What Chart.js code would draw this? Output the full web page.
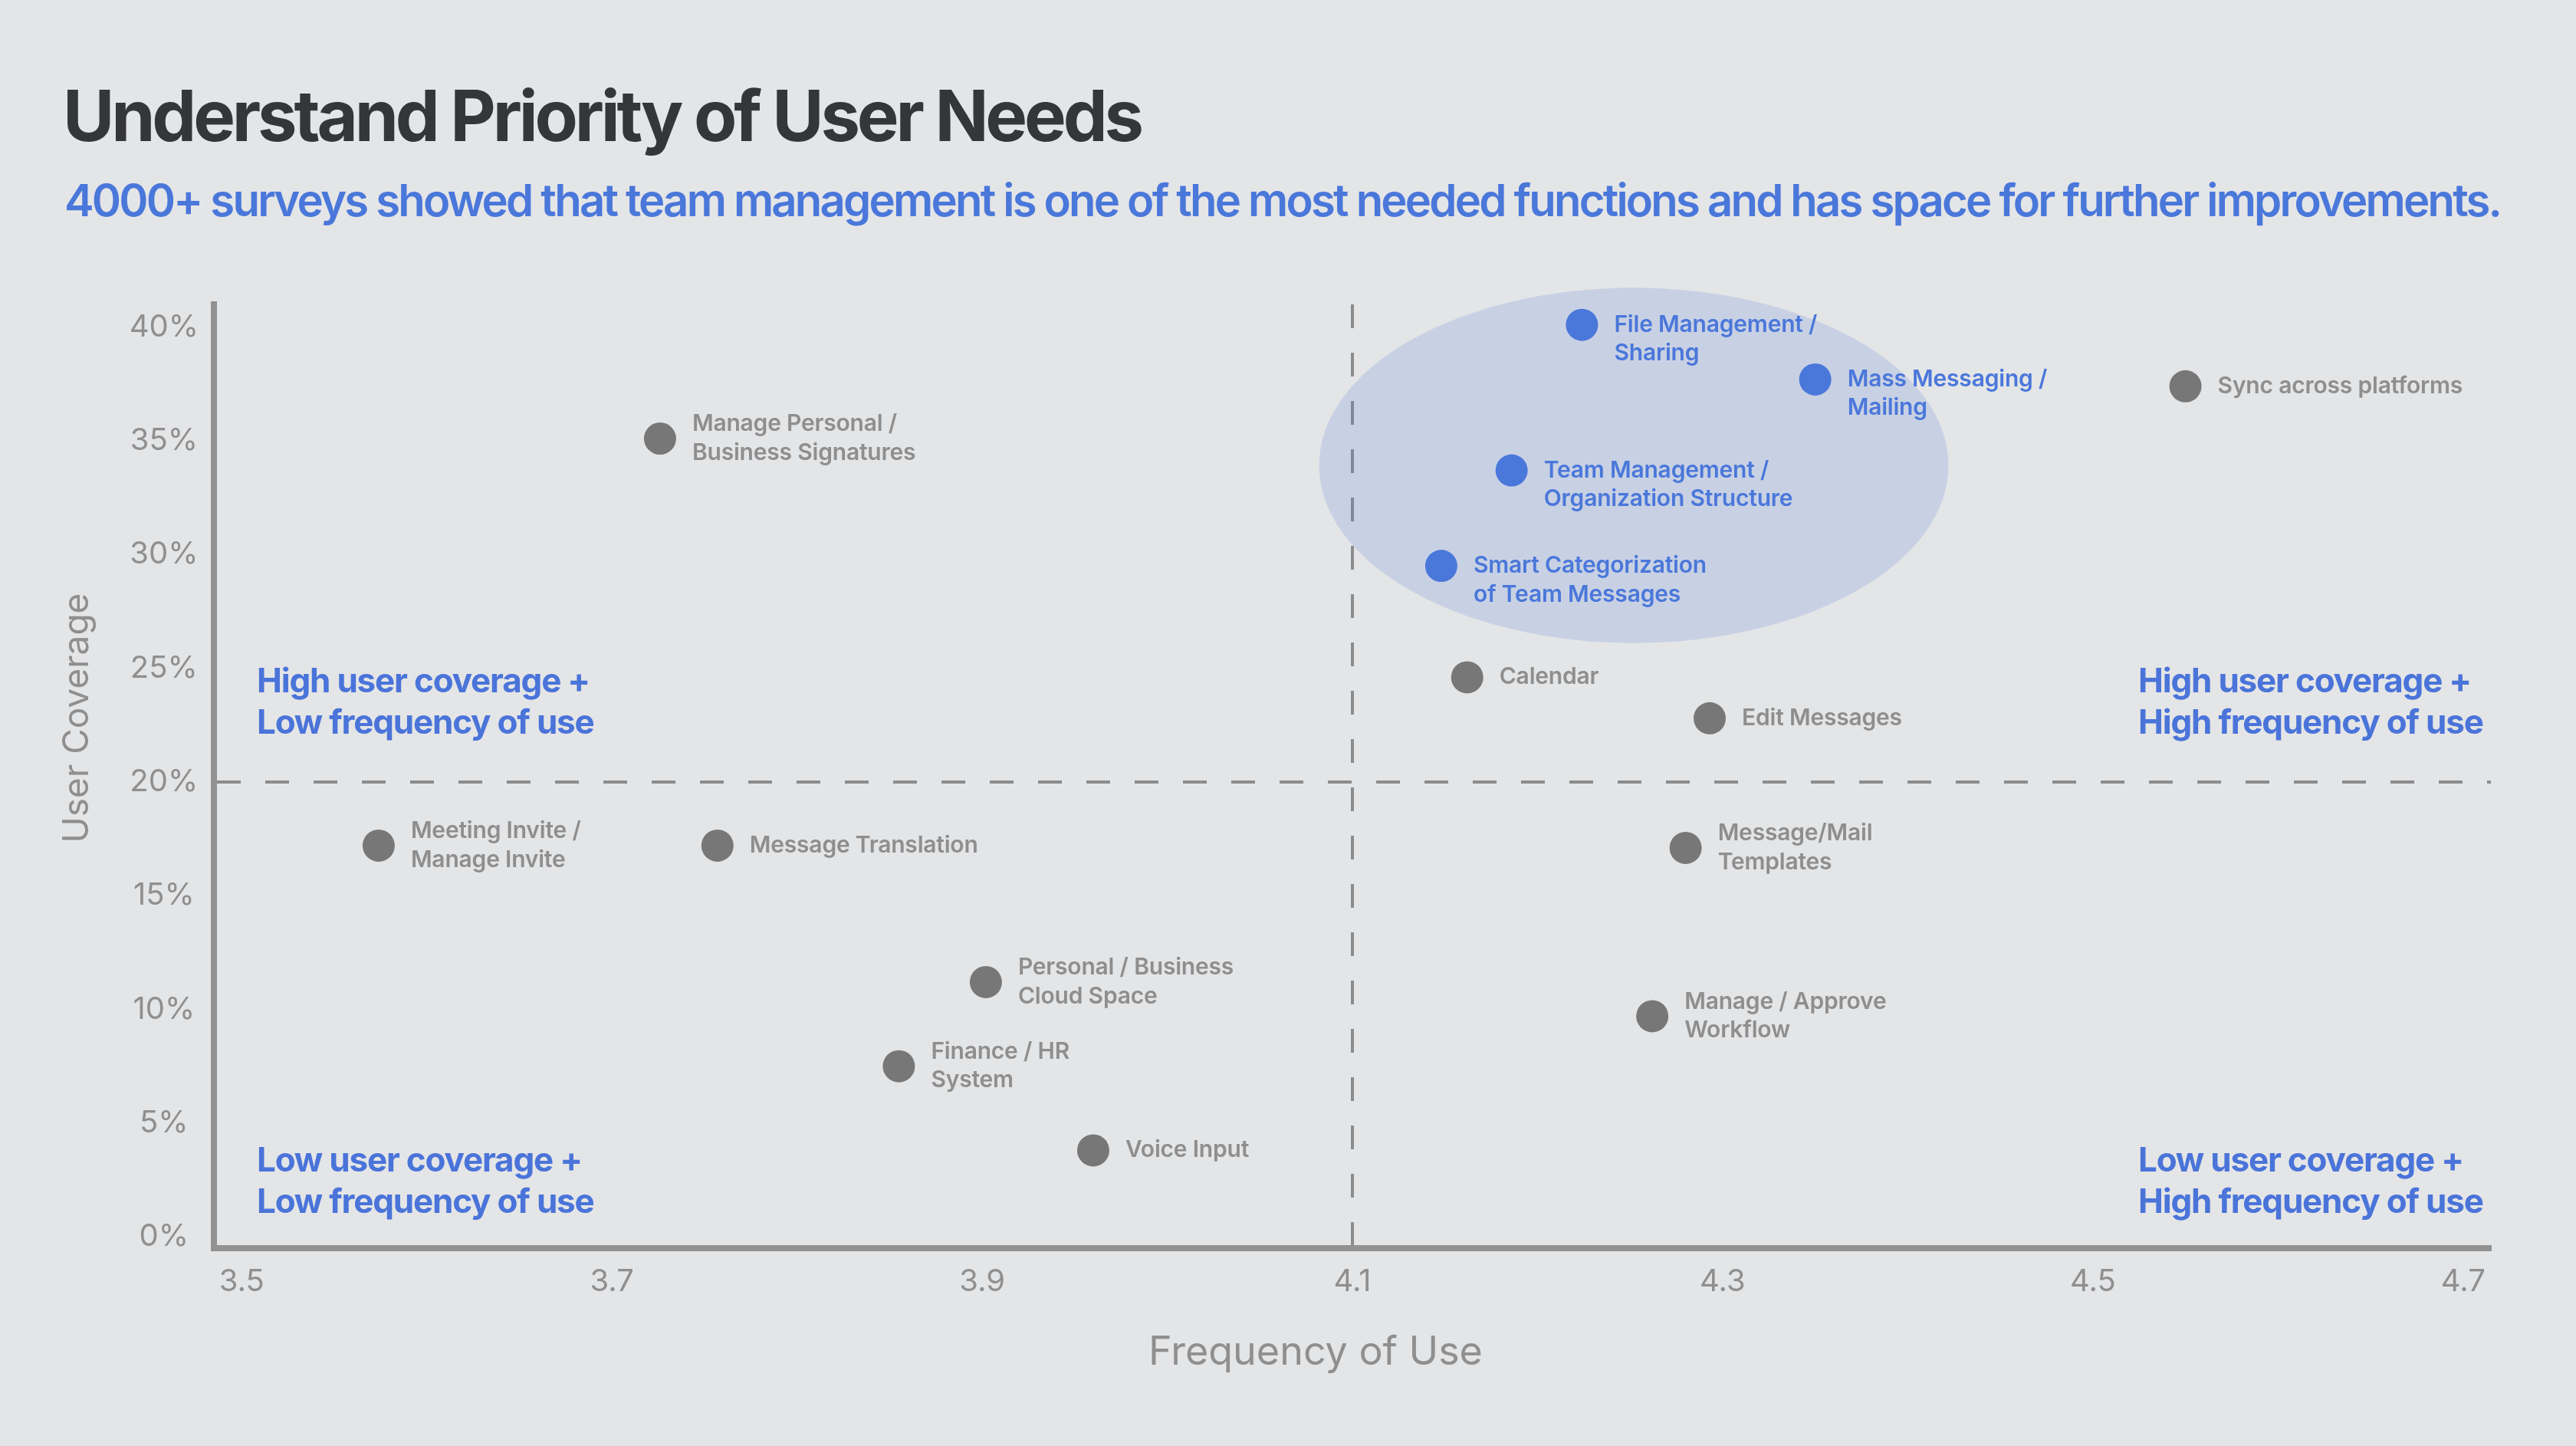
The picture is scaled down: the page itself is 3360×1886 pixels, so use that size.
<!DOCTYPE html>
<html>
<head>
<meta charset="utf-8">
<script src="https://cdn.jsdelivr.net/npm/chart.js@4.4.1/dist/chart.umd.min.js"></script>
<style>
  html, body { margin: 0; padding: 0; background: #e4e5e7; width: 3360px; height: 1886px; overflow: hidden; }
  #wrap { position: relative; width: 3360px; height: 1886px; }
  #c { position: absolute; left: 0; top: 0; }
  #title { position: absolute; left: 82px; top: 105px; margin: 0; font: 700 92px/92px Inter, "Noto Sans", sans-serif; color: #35363a; white-space: nowrap; }
  #subtitle { position: absolute; left: 84px; top: 232px; margin: 0; font: 600 58px/58px Inter, "Noto Sans", sans-serif; color: #4a77da; white-space: nowrap; }
</style>
</head>
<body>
<div id="wrap">
  <canvas id="c" width="3360" height="1886"></canvas>
  <h1 id="title">Understand Priority of User Needs</h1>
  <p id="subtitle">4000+ surveys showed that team management is one of the most needed functions and has space for further improvements.</p>
</div>
<script>
// ---------- data ----------
const features = [
  "Manage Personal /\nBusiness Signatures",
  "Meeting Invite /\nManage Invite",
  "Message Translation",
  "Personal / Business\nCloud Space",
  "Finance / HR\nSystem",
  "Voice Input",
  "File Management /\nSharing",
  "Mass Messaging /\nMailing",
  "Team Management /\nOrganization Structure",
  "Smart Categorization\nof Team Messages",
  "Sync across platforms",
  "Calendar",
  "Edit Messages",
  "Message/Mail\nTemplates",
  "Manage / Approve\nWorkflow"
];
const frequencyOfUse = [3.726, 3.574, 3.757, 3.902, 3.855, 3.960, 4.224, 4.350, 4.186, 4.148, 4.550, 4.162, 4.293, 4.280, 4.262];
const userCoverage   = [35.1, 17.2, 17.2, 11.2, 7.5, 3.8, 40.1, 37.7, 33.7, 29.5, 37.4, 24.6, 22.8, 17.1, 9.7];
const isHighlighted  = [false, false, false, false, false, false, true, true, true, true, false, false, false, false, false];

const xTicks = [3.5, 3.7, 3.9, 4.1, 4.3, 4.5, 4.7];
const yTicks = [0, 5, 10, 15, 20, 25, 30, 35, 40];
const xRange = [3.485, 4.715];
const yRange = [-0.5, 41];
const xAxisTitle = 'Frequency of Use';
const yAxisTitle = 'User Coverage';
const dividerFrequency = 4.1;
const dividerCoverage = 20;
const focusZone = { x: 4.252, y: 33.92, rx: 0.170, ry: 7.81 };
const quadrantLabels = [
  { pos: "topLeft",     lines: ["High user coverage +", "Low frequency of use"] },
  { pos: "topRight",    lines: ["High user coverage +", "High frequency of use"] },
  { pos: "bottomLeft",  lines: ["Low user coverage +", "Low frequency of use"] },
  { pos: "bottomRight", lines: ["Low user coverage +", "High frequency of use"] }
];

// ---------- style ----------
const BLUE = '#4a77da';
const GRAY_DOT = '#777777';
const GRAY_TEXT = '#8e8e8e';
const AXIS = '#929292';
const DASH = '#8c8c8c';
const TICK = '#8f8f8f';
const QUAD = '#4a74d9';
const FONT = 'Inter, "Noto Sans", sans-serif';

// fit header widths
(function fitHeaders() {
  const m = document.createElement('canvas').getContext('2d');
  const fit = (id, font, target) => {
    const el = document.getElementById(id);
    m.font = font;
    const w = m.measureText(el.textContent).width;
    const n = el.textContent.length - 1;
    el.style.letterSpacing = ((target - w) / n).toFixed(3) + 'px';
  };
  fit('title', '700 92px Inter', 1410);
  fit('subtitle', '600 58px Inter', 3180);
})();

const annotations = {
  id: 'annotations',
  beforeDatasetsDraw(chart) {
    const { ctx, chartArea: a, scales: { x, y } } = chart;
    ctx.save();
    // dashed dividers
    ctx.strokeStyle = DASH;
    ctx.lineWidth = 4;
    ctx.setLineDash([31, 32]);
    const vx = x.getPixelForValue(dividerFrequency);
    ctx.beginPath(); ctx.moveTo(vx, a.top); ctx.lineTo(vx, a.bottom - 4); ctx.stroke();
    const hy = y.getPixelForValue(dividerCoverage);
    ctx.beginPath(); ctx.moveTo(a.left + 4, hy); ctx.lineTo(a.right, hy); ctx.stroke();
    ctx.setLineDash([]);
    // highlight ellipse
    const cx = x.getPixelForValue(focusZone.x);
    const cy = y.getPixelForValue(focusZone.y);
    const rx = Math.abs(x.getPixelForValue(focusZone.x + focusZone.rx) - cx);
    const ry = Math.abs(y.getPixelForValue(focusZone.y + focusZone.ry) - cy);
    ctx.fillStyle = 'rgba(74,119,218,0.175)';
    ctx.beginPath(); ctx.ellipse(cx, cy, rx, ry, 0, 0, Math.PI * 2); ctx.fill();
    // quadrant labels
    ctx.fillStyle = QUAD;
    ctx.font = '700 44px ' + FONT;
    if ('letterSpacing' in ctx) ctx.letterSpacing = '-1.2px';
    ctx.textBaseline = 'alphabetic';
    ctx.textAlign = 'left';
    const lh = 54;
    quadrantLabels.forEach(q => {
      const lx = q.pos.endsWith('Left') ? a.left + 56 : a.right - 460;
      const base = q.pos.startsWith('top') ? hy - 63 - lh : a.bottom - 46 - lh;
      q.lines.forEach((t, i) => ctx.fillText(t, lx, base + i * lh));
    });
    if ('letterSpacing' in ctx) ctx.letterSpacing = '0px';
    ctx.restore();
  },
  afterDatasetsDraw(chart) {
    const { ctx } = chart;
    const meta = chart.getDatasetMeta(0);
    ctx.save();
    ctx.font = '600 30px ' + FONT;
    if ('letterSpacing' in ctx) ctx.letterSpacing = '-0.2px';
    ctx.textBaseline = 'middle';
    ctx.textAlign = 'left';
    const lh = 37.5;
    meta.data.forEach((pt, i) => {
      const lines = features[i].split('\n');
      ctx.fillStyle = isHighlighted[i] ? BLUE : GRAY_TEXT;
      const y0 = isHighlighted[i] ? pt.y : pt.y - (lines.length - 1) * lh / 2;
      lines.forEach((t, k) => ctx.fillText(t, pt.x + 42, y0 + k * lh));
    });
    if ('letterSpacing' in ctx) ctx.letterSpacing = '0px';
    ctx.restore();
  },
  afterDraw(chart) {
    const { ctx, chartArea: a } = chart;
    ctx.save();
    ctx.fillStyle = TICK;
    ctx.textAlign = 'center';
    ctx.textBaseline = 'middle';
    // x axis title
    ctx.font = '400 52px ' + FONT;
    ctx.fillText(xAxisTitle, (a.left + a.right) / 2 - 48, 1764);
    // y axis title
    ctx.font = '400 46px ' + FONT;
    ctx.translate(101, (a.top + a.bottom) / 2 - 76);
    ctx.rotate(-Math.PI / 2);
    ctx.fillText(yAxisTitle, 0, 0);
    ctx.restore();
  }
};

let chart;
function build() {
  if (chart) chart.destroy();
  chart = new Chart(document.getElementById('c'), {
    type: 'scatter',
    data: {
      datasets: [{
        label: 'User needs',
        data: frequencyOfUse.map((v, i) => ({ x: v, y: userCoverage[i] })),
        pointRadius: 21,
        pointHoverRadius: 21,
        pointBorderWidth: 0,
        pointBackgroundColor: isHighlighted.map(h => h ? BLUE : GRAY_DOT)
      }]
    },
    options: {
      responsive: false,
      animation: false,
      devicePixelRatio: 1,
      events: [],
      layout: { padding: { left: 40, right: 111, top: 397, bottom: 40 } },
      plugins: { legend: { display: false }, tooltip: { enabled: false } },
      scales: {
        x: {
          type: 'linear',
          min: xRange[0], max: xRange[1],
          afterBuildTicks: s => { s.ticks = xTicks.map(v => ({ value: v })); },
          afterFit: s => { s.height = 218; },
          grid: { display: false, drawTicks: false },
          border: { display: true, width: 8, color: AXIS },
          ticks: { padding: 20, color: TICK, font: { family: FONT, size: 40 }, callback: v => Number(v).toFixed(1), autoSkip: false, maxRotation: 0 },
          title: { display: false, text: xAxisTitle }
        },
        y: {
          type: 'linear',
          min: yRange[0], max: yRange[1],
          afterBuildTicks: s => { s.ticks = yTicks.map(v => ({ value: v })); },
          afterFit: s => { s.width = 239; },
          grid: { display: false, drawTicks: false },
          border: { display: true, width: 8, color: AXIS },
          ticks: { padding: 20, crossAlign: 'center', color: TICK, font: { family: FONT, size: 40 }, callback: v => v + '%', autoSkip: false },
          title: { display: false, text: yAxisTitle }
        }
      }
    },
    plugins: [annotations]
  });
}
build();
if (document.fonts && document.fonts.ready) {
  Promise.all([
    document.fonts.load('600 30px Inter'),
    document.fonts.load('700 44px Inter'),
    document.fonts.load('400 40px Inter')
  ]).then(() => build()).catch(() => {});
}
</script>
</body>
</html>
